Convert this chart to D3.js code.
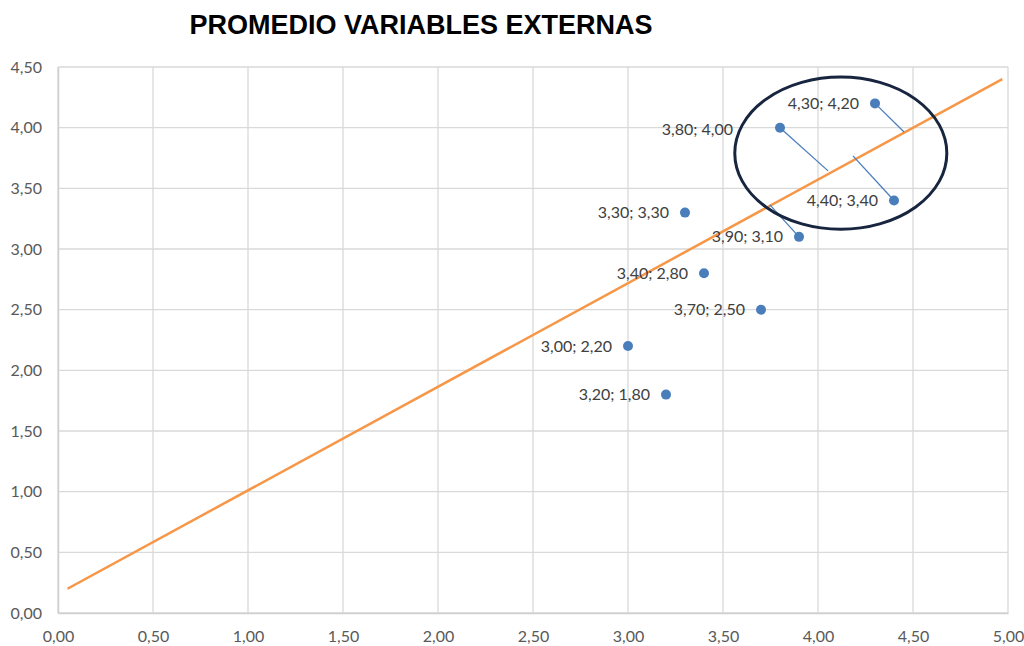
<!DOCTYPE html>
<html>
<head>
<meta charset="utf-8">
<script src="https://cdn.jsdelivr.net/npm/d3@7"></script>
<style>
  html, body { margin: 0; padding: 0; background: #ffffff; }
  svg { display: block; }
</style>
</head>
<body>
<svg id="chart" width="1024" height="646"></svg>
<script>
// ---- data ----
const title = "PROMEDIO VARIABLES EXTERNAS";
const pointX = [3.30, 3.80, 4.30, 4.40, 3.90, 3.40, 3.70, 3.00, 3.20];
const pointY = [3.30, 4.00, 4.20, 3.40, 3.10, 2.80, 2.50, 2.20, 1.80];
const pointLabels = ["3,30; 3,30", "3,80; 4,00", "4,30; 4,20", "4,40; 3,40", "3,90; 3,10", "3,40; 2,80", "3,70; 2,50", "3,00; 2,20", "3,20; 1,80"];
// leader lines (from point index to an end point in data units)
const leaderIdx = [2, 1, 3, 4];
const leaderEndX = [4.453, 4.053, 4.184, 3.747];
const leaderEndY = [3.965, 3.644, 3.768, 3.364];
// trend line end points
const trendX = [0.05, 4.97];
const trendY = [0.20, 4.40];
// highlighted ellipse (data units)
const ellipseCenter = [4.12, 3.79];
const ellipseRadii = [0.558, 0.627];
const xTicks = [0, 0.5, 1, 1.5, 2, 2.5, 3, 3.5, 4, 4.5, 5];
const xTickLabels = ["0,00", "0,50", "1,00", "1,50", "2,00", "2,50", "3,00", "3,50", "4,00", "4,50", "5,00"];
const yTicks = [0, 0.5, 1, 1.5, 2, 2.5, 3, 3.5, 4, 4.5];
const yTickLabels = ["0,00", "0,50", "1,00", "1,50", "2,00", "2,50", "3,00", "3,50", "4,00", "4,50"];

// ---- layout ----
const svg = d3.select("#chart");
const mLeft = 58, mRight = 1008, mTop = 67, mBottom = 613;
const x = d3.scaleLinear().domain([0, 5]).range([mLeft, mRight]);
const y = d3.scaleLinear().domain([0, 4.5]).range([mBottom, mTop]);
const font = "Lato, 'Open Sans', sans-serif";
// label offsets in pixels (the "3,80; 4,00" label was dragged further left)
const labelGap = i => (i === 1 ? 47 : 16);

// title
svg.append("text")
  .attr("x", 421).attr("y", 34)
  .attr("text-anchor", "middle")
  .attr("font-family", "'Liberation Sans', Arial, sans-serif")
  .attr("font-weight", "bold")
  .attr("font-size", 27)
  .attr("fill", "#000")
  .text(title);

// gridlines
const grid = svg.append("g");
grid.selectAll("line.v").data(xTicks).join("line").attr("class", "v")
  .attr("x1", d => x(d)).attr("x2", d => x(d))
  .attr("y1", mTop).attr("y2", mBottom)
  .attr("stroke", "#d9d9d9").attr("stroke-width", 1.3);
grid.selectAll("line.h").data(yTicks).join("line").attr("class", "h")
  .attr("x1", mLeft).attr("x2", mRight)
  .attr("y1", d => y(d)).attr("y2", d => y(d))
  .attr("stroke", "#d9d9d9").attr("stroke-width", 1.3);

// axes
const xAxis = d3.axisBottom(x).tickValues(xTicks).tickFormat((d, i) => xTickLabels[i]).tickSize(0).tickPadding(18);
const yAxis = d3.axisLeft(y).tickValues(yTicks).tickFormat((d, i) => yTickLabels[i]).tickSize(0).tickPadding(16);
const gx = svg.append("g").attr("transform", `translate(0,${mBottom})`).call(xAxis);
const gy = svg.append("g").attr("transform", `translate(${mLeft},0)`).call(yAxis);
[gx, gy].forEach(g => {
  g.select(".domain").attr("stroke", "#d0d0d0").attr("stroke-width", 1.5);
  g.selectAll("text").attr("font-family", font).attr("font-size", 16).attr("fill", "#595959");
});

// trend line
svg.append("path")
  .datum(trendX.map((d, i) => [d, trendY[i]]))
  .attr("d", d3.line().x(d => x(d[0])).y(d => y(d[1])))
  .attr("fill", "none").attr("stroke", "#f79646").attr("stroke-width", 2.5);

// leader lines
svg.append("g").selectAll("line").data(leaderIdx).join("line")
  .attr("x1", d => x(pointX[d])).attr("y1", d => y(pointY[d]))
  .attr("x2", (d, i) => x(leaderEndX[i])).attr("y2", (d, i) => y(leaderEndY[i]))
  .attr("stroke", "#4a7ebb").attr("stroke-width", 1.3);

// points
svg.append("g").selectAll("circle").data(pointX).join("circle")
  .attr("cx", d => x(d)).attr("cy", (d, i) => y(pointY[i]))
  .attr("r", 5).attr("fill", "#4a7ebb");

// point labels
svg.append("g").selectAll("text").data(pointLabels).join("text")
  .attr("x", (d, i) => x(pointX[i]) - labelGap(i))
  .attr("y", (d, i) => y(pointY[i]) + (i === 1 ? 2 : 0))
  .attr("dy", "0.35em")
  .attr("text-anchor", "end")
  .attr("font-family", font).attr("font-size", 16).attr("fill", "#404040")
  .text(d => d);

// ellipse
svg.append("ellipse")
  .attr("cx", x(ellipseCenter[0])).attr("cy", y(ellipseCenter[1]))
  .attr("rx", x(ellipseCenter[0] + ellipseRadii[0]) - x(ellipseCenter[0]))
  .attr("ry", y(ellipseCenter[1]) - y(ellipseCenter[1] + ellipseRadii[1]))
  .attr("fill", "none").attr("stroke", "#17253f").attr("stroke-width", 3);
</script>
</body>
</html>
